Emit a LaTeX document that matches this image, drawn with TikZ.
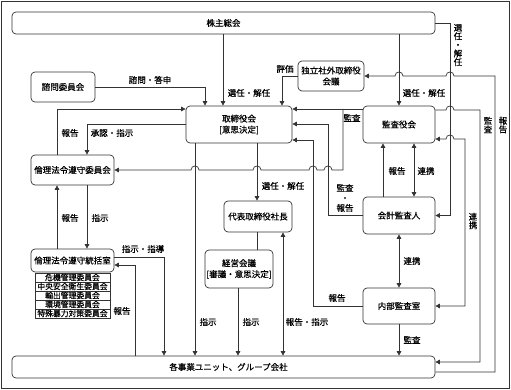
\documentclass[tikz,border=0pt]{standalone}
\usepackage{fontspec}
\newfontfamily\jp[FakeBold=0.5]{Noto Sans CJK JP}
\usetikzlibrary{arrows.meta}
\begin{document}
\begin{tikzpicture}[x=1pt,y=-1pt,
  ln/.style={draw=black!80, line width=0.7pt},
  arr/.style={ln, -{Triangle[length=4.5pt,width=4.5pt]}},
  darr/.style={ln, {Triangle[length=4.5pt,width=4.5pt]}-{Triangle[length=4.5pt,width=4.5pt]}},
  box/.style={draw=black!80, line width=0.7pt, rounded corners=4pt, align=center, inner sep=0pt, font=\jp\fontsize{8.5}{11}\selectfont},
  lab/.style={inner sep=0pt, font=\jp\fontsize{8.5}{10}\selectfont, align=center},
  vlab/.style={inner sep=0pt, font=\jp\fontsize{8.5}{8.6}\selectfont, align=center},
  rowbox/.style={draw=black!80, line width=0.6pt, inner sep=0pt, minimum width=75pt, minimum height=9pt, font=\jp\fontsize{7.8}{8}\selectfont}
]
\useasboundingbox (0,0) rectangle (511,390);
\draw[ln] (1.5,1.5) rectangle (509.5,388.5);

% boxes
\node[box, minimum width=423pt, minimum height=22pt] (kabu) at (223.5,23) {株主総会};
\node[box, minimum width=64pt, minimum height=30pt] (shimon) at (63,87) {諮問委員会};
\node[box, minimum width=66pt, minimum height=30pt] (dok) at (331,76) {独立社外取締役\\会議};
\node[box, minimum width=106pt, minimum height=37pt] (tori) at (239,124.5) {取締役会\\{[}意思決定{]}};
\node[box, minimum width=72pt, minimum height=37pt] (kansa) at (399,124.5) {監査役会};
\node[box, minimum width=83pt, minimum height=30pt] (rinri) at (72.5,170) {倫理法令遵守委員会};
\node[box, minimum width=83pt, minimum height=23pt] (tok) at (72.5,260.5) {倫理法令遵守統括室};
\node[rowbox] (r1) at (72.5,277.5) {危機管理委員会};
\node[rowbox] (r2) at (72.5,286.5) {中央安全衛生委員会};
\node[rowbox] (r3) at (72.5,295.5) {輸出管理委員会};
\node[rowbox] (r4) at (72.5,304.5) {環境管理委員会};
\node[rowbox] (r5) at (72.5,313.5) {特殊暴力対策委員会};
\node[box, minimum width=68pt, minimum height=31pt] (shacho) at (258,216.5) {代表取締役社長};
\node[box, minimum width=68pt, minimum height=38pt] (keiei) at (239,269) {経営会議\\{[}審議・意思決定{]}};
\node[box, minimum width=72pt, minimum height=37pt] (kaikei) at (399,215.5) {会計監査人};
\node[box, minimum width=72pt, minimum height=36pt] (naibu) at (399,306) {内部監査室};
\node[box, minimum width=423pt, minimum height=22pt] (jigyo) at (223.5,367) {\hspace{10pt}各事業ユニット、グループ会社};

% connectors
\draw[arr] (kabu.south -| 223,0) -- (tori.north -| 223,0);
\draw[arr] (shimon.east) -- (205,87) -- (tori.north -| 205,0);
\draw[arr] (dok.west) -- (282,76) -- (tori.north -| 282,0);
\draw[arr] (kabu.south -| kansa.north) -- (kansa.north);
\draw[arr] (kabu.east) -- (450,23) -- (450,215.5) -- (kaikei.east);
\draw[arr] (jigyo.east |- 0,372) -- (495,372) -- (495,76) -- (454,76) .. controls (454,70.7) and (446,70.7) .. (446,76) -- (403,76) .. controls (403,70.7) and (395,70.7) .. (395,76) -- (dok.east);
\draw[arr] (kansa.east |- 0,110) -- (446,110) .. controls (446,104.7) and (454,104.7) .. (454,110) -- (480,110) -- (480,362) -- (jigyo.east |- 0,362);
\draw[darr] (naibu.east) -- (465,306) -- (465,139) -- (454,139) .. controls (454,133.7) and (446,133.7) .. (446,139) -- (kansa.east |- 0,139);
\draw[arr] (kansa.west |- 0,109) -- (tori.east |- 0,109);
\coordinate (br) at (343,109);
\draw[arr] (br) -- (343,170) -- (332,170) .. controls (332,164.7) and (324,164.7) .. (324,170) -- (317,170) .. controls (317,164.7) and (309,164.7) .. (309,170) -- (261,170) .. controls (261,164.7) and (253,164.7) .. (253,170) -- (199,170) .. controls (199,164.7) and (191,164.7) .. (191,170) -- (rinri.east);
\draw[arr] (kaikei.west) -- (328,215.5) -- (328,124) -- (tori.east |- 0,124);
\draw[arr] (naibu.west) -- (313,306) -- (313,140) -- (tori.east |- 0,140);
\draw[arr] (kaikei.north -| 383,0) -- (kansa.south -| 383,0);
\draw[darr] (kaikei.north -| 414,0) -- (kansa.south -| 414,0);
\draw[darr] (kaikei.south) -- (naibu.north);
\draw[arr] (naibu.south) -- (jigyo.north -| naibu.south);
\draw[arr] (tori.west |- 0,124) -- (87,124) -- (rinri.north -| 87,0);
\draw[arr] (rinri.north -| 57,0) -- (57,109) -- (tori.west |- 0,109);
\draw[arr] (rinri.south -| 87,0) -- (tok.north -| 87,0);
\draw[arr] (tok.north -| 57,0) -- (rinri.south -| 57,0);
\draw[arr] (tok.east |- 0,257) -- (164,257) -- (jigyo.north -| 164,0);
\draw[arr] (jigyo.north -| 135,0) -- (135,265) -- (tok.east |- 0,265);
\draw[arr] (tori.south -| 195,0) -- (jigyo.north -| 195,0);
\draw[arr] (tori.south -| 257,0) -- (shacho.north -| 257,0);
\draw[ln] (shacho.south -| 257,0) -- (keiei.north -| 257,0);
\draw[arr] (keiei.south -| 238,0) -- (jigyo.north -| 238,0);
\draw[darr] (shacho.south -| 283,0) -- (jigyo.north -| 283,0);

% labels
\node[lab] (l1) at (150,80) {諮問・答申};
\node[lab] (l2) at (249,93) {選任・解任};
\node[lab] (l3) at (285,69) {評価};
\node[lab] (l4) at (424,93) {選任・解任};
\node[vlab] (l5) at (458,45) {選\\任\\・\\解\\任};
\node[vlab] (l6) at (488,125) {監\\査};
\node[vlab] (l7) at (503,125) {報\\告};
\node[vlab] (l8) at (473,221) {連\\携};
\node[lab] (l9) at (352,118) {監査};
\node[lab] (l10) at (70,133) {報告};
\node[lab] (l11) at (112,133) {承認・指示};
\node[lab] (l12) at (283,186) {選任・解任};
\node[lab] (l13) at (345,198) {監査\\・\\報告};
\node[lab] (l14) at (397,171) {報告};
\node[lab] (l15) at (426,171) {連携};
\node[lab] (l16) at (70,218) {報告};
\node[lab] (l17) at (100,218) {指示};
\node[lab] (l18) at (143,249) {指示・指導};
\node[lab] (l19) at (412,261) {連携};
\node[lab] (l20) at (337,298) {報告};
\node[lab] (l21) at (122,311) {報告};
\node[lab] (l22) at (208,322) {指示};
\node[lab] (l23) at (251,322) {指示};
\node[lab] (l24) at (307,322) {報告・指示};
\node[lab] (l25) at (412,340) {監査};
\end{tikzpicture}
\end{document}
